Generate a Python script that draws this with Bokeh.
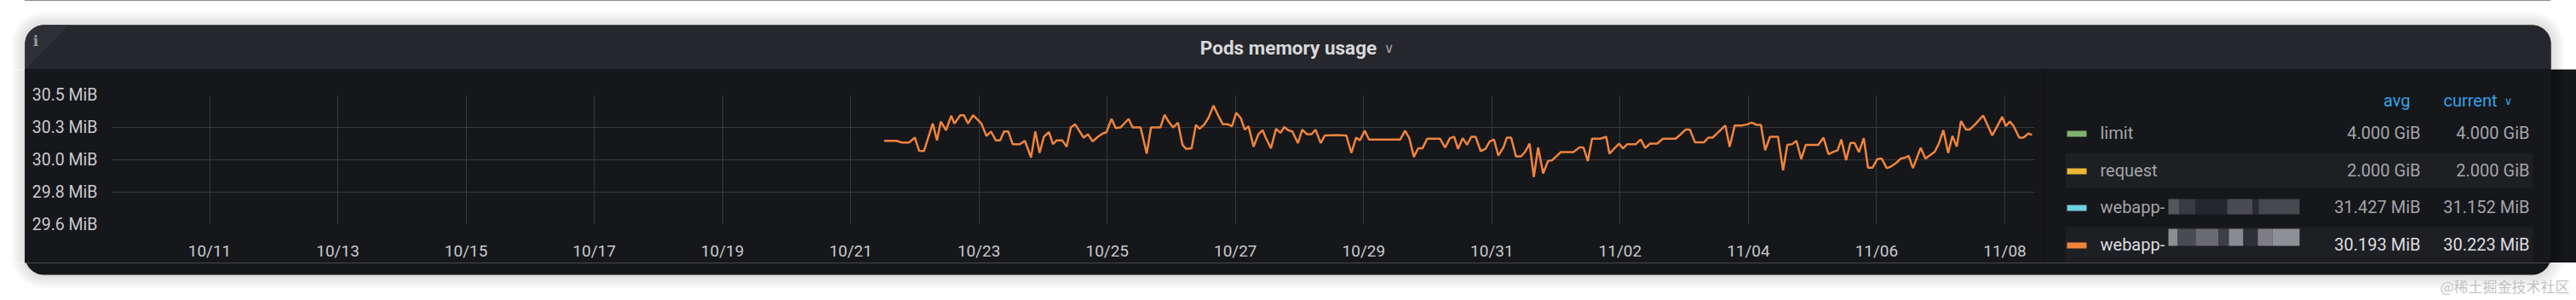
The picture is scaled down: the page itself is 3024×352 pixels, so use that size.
import math
import numpy as np
from bokeh.plotting import figure
from bokeh.layouts import column, row
from bokeh.models import Range1d, FixedTicker, CustomJSTickFormatter, PolyAnnotation, Label
from bokeh.embed import file_html
from bokeh.resources import INLINE

# ---------------- data ----------------
title_text = "Pods memory usage"
series_origin = "2023-10-21T00:00"          # hours below are counted from here
series_hours = [
    12.5, 17.1, 19.2, 21.8, 24.0, 25.6, 27.4, 30.7, 32.3, 33.7, 35.7, 37.6, 38.8, 41.0, 42.4, 43.9,
    45.8, 47.4, 48.9, 50.8, 52.5, 54.3, 55.9, 57.4, 59.0, 60.6, 63.3, 65.2, 67.5, 69.1, 70.7, 72.3,
    74.2, 75.7, 77.1, 79.2, 80.8, 82.4,
    84.0, 87.2, 88.8, 90.6, 92.5, 94.4, 95.7, 97.6, 99.2, 101.0, 104.0, 105.5, 108.5, 110.8, 112.4,
    115.9, 117.5, 119.1, 120.7, 122.5, 124.2, 125.5, 127.6, 129.2, 130.6, 132.4, 134.0, 135.8, 137.4,
    139.3, 141.2, 142.7, 144.3, 146.0, 147.5, 148.9, 150.8, 152.6, 154.2, 155.2,
    157.3, 159.2, 160.9, 162.3, 163.7, 165.3, 167.4, 169.0, 170.8, 172.5, 174.0, 175.9, 177.5, 181.8,
    185.5, 187.4, 189.2, 190.6, 192.4, 194.0, 205.7, 207.5, 209.1, 210.8, 212.4, 214.0, 215.8, 220.6,
    222.5, 224.3, 225.9,
    227.3, 229.1, 230.7, 232.3, 233.9, 235.8, 237.6, 239.2, 240.8, 242.4, 244.3, 245.6, 247.2, 249.0,
    250.9, 252.5, 254.1, 255.7, 257.3, 259.2, 261.0, 262.6, 265.8, 270.5, 272.7, 274.3, 275.9, 277.5,
    280.6, 282.8, 284.0, 285.7, 287.6, 289.1, 290.7, 293.9, 295.7,
    297.4, 299.2, 301.9, 304.0, 308.8, 310.7, 312.5, 314.1, 316.0, 319.4, 321.0, 322.6, 324.5, 327.4,
    329.0, 330.9, 333.8, 335.6, 337.3, 339.1, 340.7, 342.3, 344.1, 347.1, 349.0, 350.6, 352.4, 354.0,
    355.8, 357.5, 362.2, 364.1, 366.0, 368.1, 369.4,
    370.8, 372.6, 374.2, 375.8, 377.4, 379.2, 380.8, 382.5, 384.3, 385.9, 387.8, 389.6, 391.4, 393.1,
    394.9, 396.0, 397.6, 400.5, 402.3, 405.8, 407.3, 409.0, 410.8, 412.4, 414.0, 415.6, 417.5, 418.8,
    420.9, 423.9, 425.5, 427.3, 429.2, 431.0, 432.4, 433.9, 435.3, 437.4, 439.0, 440.9, 442.2,
]
series_mib = [
    30.180, 30.180, 30.168, 30.168, 30.204, 30.107, 30.105, 30.308, 30.184, 30.322, 30.259, 30.365,
    30.308, 30.369, 30.369, 30.308, 30.369, 30.338, 30.308, 30.216, 30.249, 30.184, 30.184, 30.249,
    30.249, 30.156, 30.156, 30.180, 30.058, 30.249, 30.091, 30.210, 30.245, 30.156, 30.184, 30.184,
    30.137, 30.279,
    30.302, 30.204, 30.229, 30.176, 30.210, 30.235, 30.243, 30.342, 30.275, 30.279, 30.342, 30.279,
    30.279, 30.086, 30.279, 30.279, 30.373, 30.318, 30.279, 30.314, 30.151, 30.121, 30.125, 30.298,
    30.269, 30.302, 30.353, 30.440, 30.373, 30.302, 30.302, 30.288, 30.387, 30.348, 30.263, 30.288,
    30.137, 30.229, 30.259, 30.210,
    30.125, 30.269, 30.239, 30.283, 30.259, 30.249, 30.164, 30.263, 30.229, 30.229, 30.263, 30.164,
    30.220, 30.223, 30.220, 30.091, 30.204, 30.184, 30.255, 30.190, 30.190, 30.255, 30.200, 30.062,
    30.125, 30.125, 30.196, 30.196, 30.131, 30.200, 30.210,
    30.121, 30.200, 30.151, 30.210, 30.210, 30.105, 30.121, 30.176, 30.190, 30.072, 30.131, 30.204,
    30.204, 30.066, 30.066, 30.101, 30.160, 29.914, 30.131, 29.940, 30.032, 30.038, 30.097, 30.097,
    30.131, 30.131, 30.032, 30.196, 30.196, 30.210, 30.086, 30.121, 30.160, 30.125, 30.156, 30.156,
    30.190,
    30.128, 30.160, 30.160, 30.196, 30.196, 30.229, 30.263, 30.263, 30.170, 30.170, 30.204, 30.204,
    30.239, 30.294, 30.137, 30.294, 30.294, 30.302, 30.314, 30.298, 30.298, 30.111, 30.210, 30.210,
    29.963, 30.151, 30.156, 30.180, 30.046, 30.151, 30.151, 30.204, 30.082, 30.101, 30.111,
    30.190, 30.038, 30.164, 30.164, 30.097, 30.200, 29.983, 29.983, 30.046, 30.050, 29.979, 29.993,
    30.019, 30.050, 30.058, 30.070, 29.979, 30.129, 30.050, 30.101, 30.160, 30.259, 30.091, 30.216,
    30.137, 30.326, 30.263, 30.263, 30.302, 30.367, 30.298, 30.220, 30.289, 30.357, 30.289, 30.322,
    30.289, 30.204, 30.204, 30.235, 30.224,
]
x_start = "2023-10-09T11:10"
x_end = "2023-11-08T11:10"
x_tick_dates = ["2023-10-11", "2023-10-13", "2023-10-15", "2023-10-17", "2023-10-19",
                "2023-10-21", "2023-10-23", "2023-10-25", "2023-10-27", "2023-10-29",
                "2023-10-31", "2023-11-02", "2023-11-04", "2023-11-06", "2023-11-08"]
y_tick_bytes = [31_000_000, 31_250_000, 31_500_000, 31_750_000, 32_000_000]
legend_header = ["avg", "current"]
legend_names = ["limit", "request", "webapp-", "webapp-"]
legend_colors = ["#7EB26D", "#EAB839", "#6ED0E0", "#EF843C"]
legend_avg = ["4.000 GiB", "2.000 GiB", "31.427 MiB", "30.193 MiB"]
legend_current = ["4.000 GiB", "2.000 GiB", "31.152 MiB", "30.223 MiB"]
watermark_text = "@稀土掘金技术社区"

MIB = 1048576


def to_ms(s):
    return float(np.datetime64(s, "ms").astype(np.int64))


origin_ms = to_ms(series_origin)
x_ms = [origin_ms + h * 3600_000.0 for h in series_hours]
y_bytes = [v * MIB for v in series_mib]

# ---------------- styling ----------------
W, H = 3024, 352
BODY = "#16171b"
HEADER = "#26272c"
TEXT = "#c8c9cd"
BLUE = "#33a2e5"
PANEL = (29, 29, 2994, 322)   # left, top, right, bottom of the panel card (page pixels)
HEAD_BOTTOM = 81
MID_BOTTOM = 308
RADIUS = 22


def rounded(x0, y0, x1, y1, r_top, r_bottom, n=10):
    xs, ys = [], []
    corners = [((x0 + r_top, y0 + r_top), r_top, math.pi, 1.5 * math.pi),
               ((x1 - r_top, y0 + r_top), r_top, 1.5 * math.pi, 2 * math.pi),
               ((x1 - r_bottom, y1 - r_bottom), r_bottom, 0.0, 0.5 * math.pi),
               ((x0 + r_bottom, y1 - r_bottom), r_bottom, 0.5 * math.pi, math.pi)]
    for (cx, cy), r, a0, a1 in corners:
        for k in range(n + 1):
            a = a0 + (a1 - a0) * k / n
            xs.append(cx + r * math.cos(a))
            ys.append(cy + r * math.sin(a))
    return xs, ys


def poly(f, xs, ys, color, alpha=1.0):
    f.add_layout(PolyAnnotation(xs=list(xs), ys=list(ys), fill_color=color, fill_alpha=alpha,
                                line_color=None))


def rect(f, l, t, r, b, color):
    poly(f, [l, r, r, l], [t, t, b, b], color)


def draw_panel(f):
    l, t, r, b = PANEL
    for i in range(1, 9):
        xs, ys = rounded(l - 2 * i, t - 2 * i, r + 2 * i, b + 2 * i, RADIUS + 2 * i, RADIUS + 2 * i)
        poly(f, xs, ys, "#000000", 0.014)
    xs, ys = rounded(l, t, r, b, RADIUS, RADIUS)
    poly(f, xs, ys, BODY)
    xs, ys = rounded(l, t, r, HEAD_BOTTOM, RADIUS, 0)
    poly(f, xs, ys, HEADER)
    # info corner
    arc_x = [l + RADIUS - RADIUS * math.cos(a * math.pi / 20) for a in range(11)]
    arc_y = [t + RADIUS - RADIUS * math.sin(a * math.pi / 20) for a in range(11)]
    poly(f, arc_x[::-1] + [l, l + 51], arc_y[::-1] + [t + 52, t], "#2f3036")


def deco_fig(x0, x1, y0, y1, fill="#ffffff"):
    f = figure(width=x1 - x0, height=y1 - y0, x_range=Range1d(x0, x1), y_range=Range1d(y1, y0),
               output_backend="svg", toolbar_location=None, min_border=0, title=None,
               x_axis_location=None, y_axis_location=None, frame_align=False)
    f.grid.visible = False
    f.outline_line_color = None
    f.border_fill_color = fill
    f.background_fill_color = fill
    draw_panel(f)
    return f


def txt(f, x, y, text, size, color, align="left", font="Roboto", style="normal"):
    f.add_layout(Label(x=x, y=y, text=text, text_font=font, text_font_size=f"{size}px",
                       text_color=color, text_align=align, text_baseline="middle",
                       text_font_style=style))


# ---------------- top band (header) ----------------
top = deco_fig(0, W, 0, HEAD_BOTTOM)
txt(top, 41.5, 47, "i", 17, "#9a9ba0", align="center", font="DejaVu Serif", style="bold")
txt(top, 1512, 55, title_text, 22.5, "#d8d9da", align="center", style="bold")
txt(top, 1630, 56, "∨", 16, "#9fa0a5", align="center", font="DejaVu Sans")

# ---------------- left strip ----------------
left = deco_fig(0, 29, HEAD_BOTTOM, MID_BOTTOM)

# ---------------- chart ----------------
p = figure(width=2400 - 29, height=MID_BOTTOM - HEAD_BOTTOM, title=None, x_axis_type="datetime",
           output_backend="svg", toolbar_location=None, frame_align=False,
           x_range=Range1d(to_ms(x_start), to_ms(x_end)),
           y_range=Range1d(y_tick_bytes[0], y_tick_bytes[-1]),
           min_border_left=101, min_border_right=12, min_border_top=30, min_border_bottom=39)
p.border_fill_color = BODY
p.background_fill_color = BODY
p.outline_line_color = None
p.line(x_ms, y_bytes, line_color=legend_colors[3], line_width=2.5)
p.xaxis.ticker = FixedTicker(ticks=[to_ms(d) for d in x_tick_dates])
p.xaxis.formatter = CustomJSTickFormatter(code="""
const d = new Date(tick);
return String(d.getUTCMonth() + 1).padStart(2, '0') + '/' + String(d.getUTCDate()).padStart(2, '0');
""")
p.yaxis.ticker = FixedTicker(ticks=y_tick_bytes)
p.yaxis.formatter = CustomJSTickFormatter(code="return (tick / 1048576).toFixed(1) + ' MiB';")
for ax in (p.xaxis[0], p.yaxis[0]):
    ax.axis_line_color = None
    ax.major_tick_line_color = None
    ax.minor_tick_line_color = None
    ax.major_label_text_font = "Roboto"
    ax.major_label_text_font_size = "19px"
    ax.major_label_text_color = TEXT
p.yaxis.major_label_text_font_size = "19.5px"
p.yaxis.major_label_standoff = 10
p.xaxis.major_label_standoff = 13
p.xgrid.grid_line_color = "#37383d"
p.ygrid.grid_line_color = "#37383d"

# ---------------- legend (right) ----------------
leg = deco_fig(2400, W, HEAD_BOTTOM, MID_BOTTOM, fill=BODY)
row_y = [155, 199, 242, 286]
rect(leg, 2424, 179, 2973, 220, "#1e1f23")
rect(leg, 2424, 266, 2973, 307, "#1e1f23")
# redacted (pixelated) part of the pod names
cyan_edges = [2545, 2558, 2577, 2614, 2644, 2651, 2699]
cyan_cols = ["#55565b", "#3a3b40", "#26272c", "#4a4b50", "#2a2b30", "#47484d"]
for k, c in enumerate(cyan_cols):
    rect(leg, cyan_edges[k], 233, cyan_edges[k + 1], 251, c)
orange_edges = [2545, 2556, 2577, 2604, 2616, 2633, 2650, 2667, 2699]
orange_cols = ["#8d8e93", "#4a4b50", "#6a6b70", "#3e3f44", "#8a8b90", "#2f3035", "#7e7f84", "#8f9095"]
for k, c in enumerate(orange_cols):
    rect(leg, orange_edges[k], 268, orange_edges[k + 1], 288, c)

txt(leg, 2829, 117, legend_header[0], 20, BLUE, align="right")
txt(leg, 2868, 117, legend_header[1], 20, BLUE, align="left")
txt(leg, 2944, 118, "∨", 13, BLUE, align="center", font="DejaVu Sans")
row_cols = ["#a3a5aa", "#a3a5aa", "#a3a5aa", "#dcdde0"]
for i, y in enumerate(row_y):
    rect(leg, 2426, y - 2, 2449, y + 5, legend_colors[i])
    txt(leg, 2465, y, legend_names[i], 20, row_cols[i])
    txt(leg, 2841, y, legend_avg[i], 20, row_cols[i], align="right")
    txt(leg, 2969, y, legend_current[i], 20, row_cols[i], align="right")

# ---------------- bottom band ----------------
bottom = deco_fig(0, W, MID_BOTTOM, H)
txt(bottom, 3016, 335, watermark_text, 17, "#c3c3c3", align="right", font="Noto Sans CJK SC")

# backdrop behind the pieces: white page margins, dark panel in between
backdrop = {"background-image": (f"linear-gradient(to right, #ffffff 0px, #ffffff {PANEL[0]}px, "
                                 f"{BODY} {PANEL[0]}px, {BODY} {PANEL[2]}px, "
                                 f"#ffffff {PANEL[2]}px, #ffffff 100%)")}
layout = column(top, row(left, p, leg, spacing=0, styles=backdrop),
                bottom, spacing=0, styles=backdrop)
open("out.html", "w").write(file_html(layout, INLINE))
